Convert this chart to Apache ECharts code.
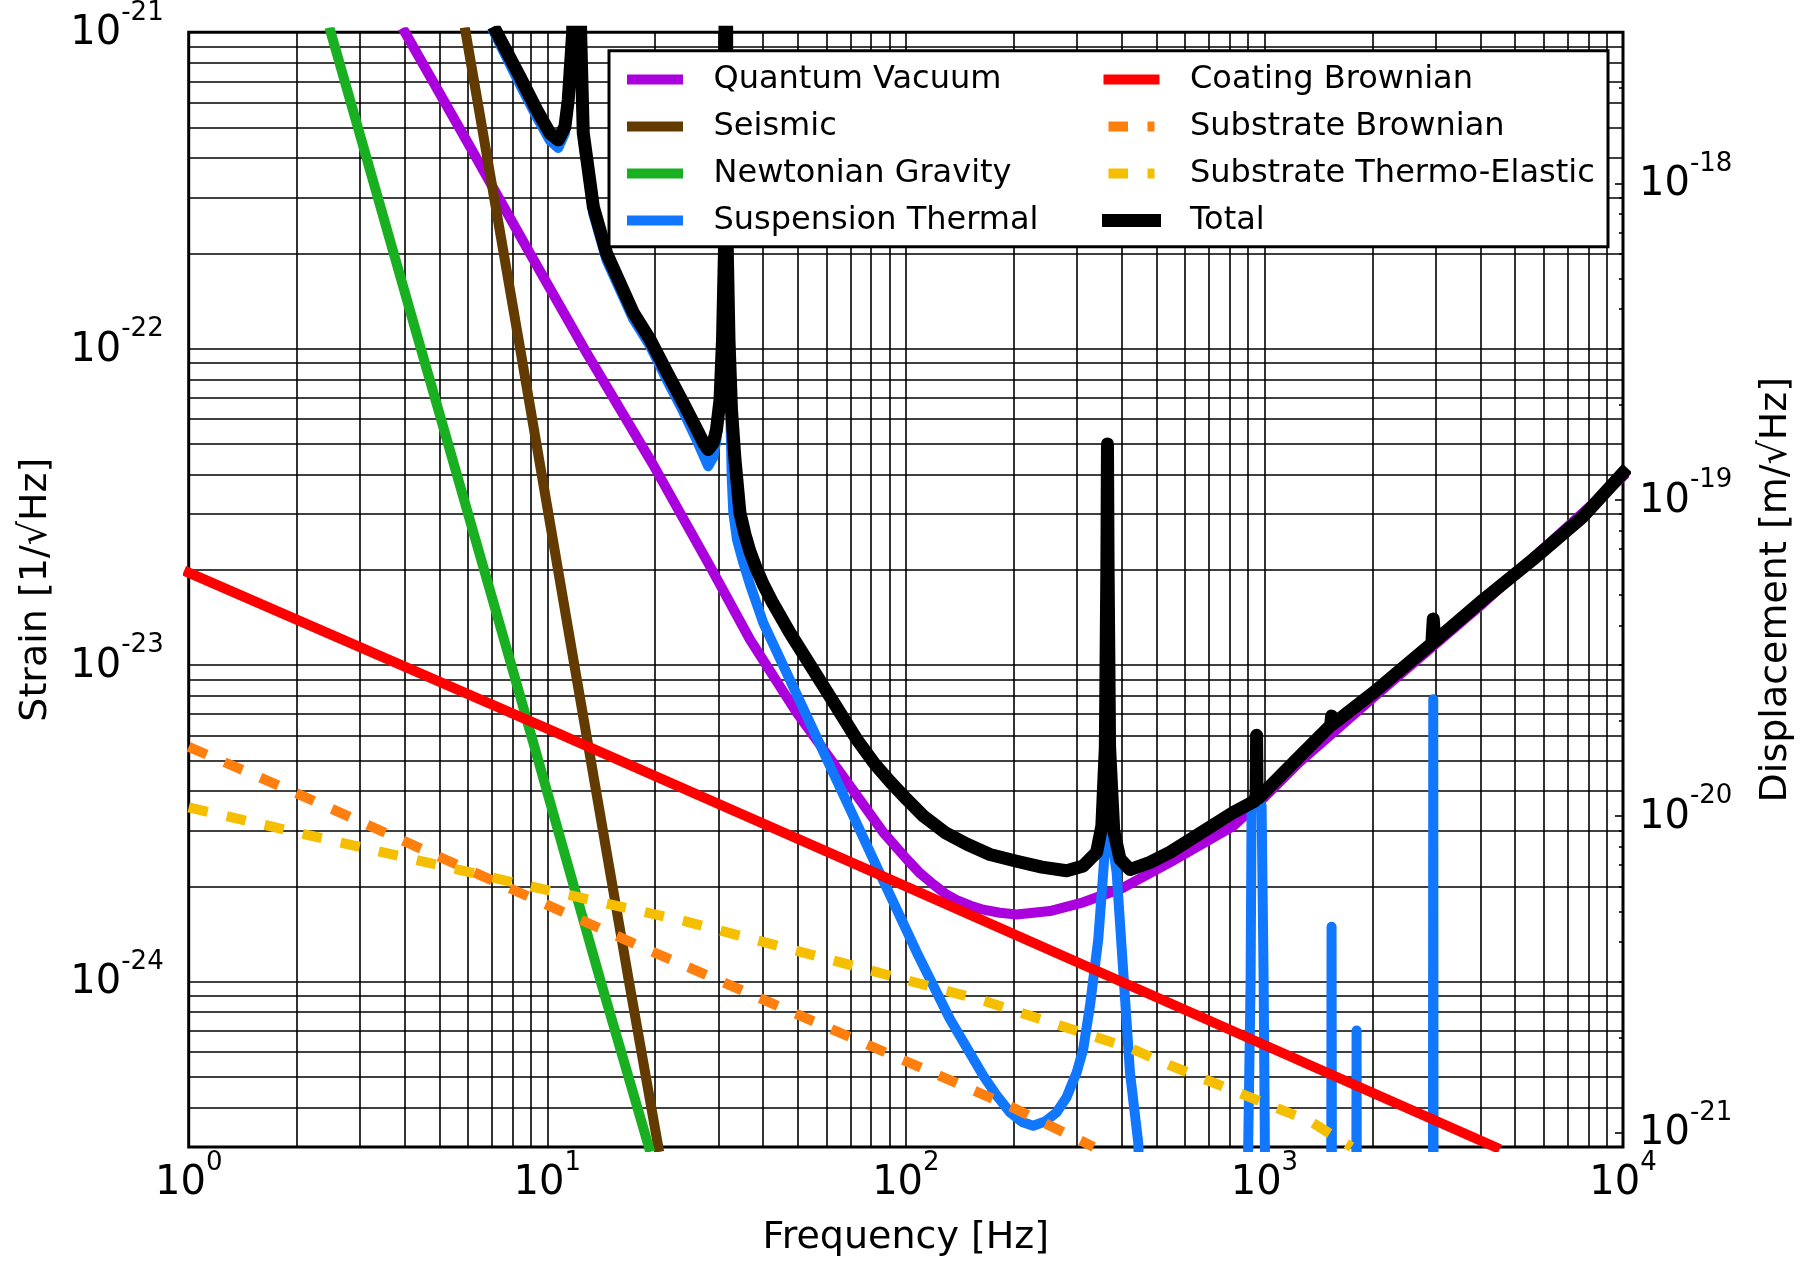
<!DOCTYPE html>
<html>
<head>
<meta charset="utf-8">
<title>Noise curves</title>
<script src="https://cdn.jsdelivr.net/npm/echarts@6.0.0/dist/echarts.min.js"></script>
<style>
  html, body { margin: 0; padding: 0; background: #fff; }
  #main { width: 1803px; height: 1262px; }
</style>
</head>
<body>
<div id="main"></div>
<script>
const FONT = 'DejaVu Sans'

// [frequency (Hz), strain (1/sqrt(Hz))]
const quantumVacuum = [
  [4.01, 1e-21], [6.09, 4.35e-22], [8.95, 2.0e-22], [12.88, 9.7e-23], [19.71, 4.31e-23],
  [28.6, 2.03e-23], [36.75, 1.205e-23], [49.61, 7.08e-24], [69.85, 4.15e-24], [86.5, 2.96e-24],
  [100.5, 2.44e-24], [109.5, 2.2e-24], [119.2, 2.03e-24], [128.9, 1.894e-24], [139.8, 1.80e-24],
  [151.5, 1.737e-24], [164.4, 1.687e-24], [183.0, 1.65e-24], [203.7, 1.63e-24], [252.2, 1.67e-24],
  [312.4, 1.78e-24], [403.9, 1.98e-24], [545, 2.38e-24], [818.4, 3.10e-24], [971, 3.7e-24],
  [1256, 4.95e-24], [2012, 7.9e-24], [4076, 1.57e-23], [10000, 3.95e-23]
]
const seismic = [
  [5.92, 1e-21], [8.4, 1e-22], [11.9, 1e-23], [16.9, 1e-24], [20.4, 3.0e-25]
]
const newtonianGravity = [
  [2.49, 1e-21], [4.44, 1e-22], [7.94, 1e-23], [14.1, 1e-24], [19.2, 3.0e-25]
]
const suspensionThermal = [
  [7.1, 1e-21], [8.3, 7.0e-22], [9.3, 5.45e-22], [10.17, 4.55e-22], [10.73, 4.31e-22],
  [11.2, 4.8e-22], [11.44, 6.0e-22], [11.77, 1e-21], [12.05, 1e-20], [12.39, 1e-21],
  [12.6, 4.6e-22], [13.44, 2.67e-22], [14.64, 1.9e-22], [17.37, 1.24e-22], [19.34, 1.022e-22],
  [21.53, 7.98e-23], [23.95, 6.32e-23], [26.15, 5.12e-23], [27.35, 4.56e-23], [28.1, 4.25e-23],
  [29.03, 4.53e-23], [29.64, 5.16e-23], [30.32, 6.65e-23], [30.81, 1.067e-22], [31.2, 2.05e-22],
  [31.45, 1e-20], [31.77, 2.05e-22], [32.12, 1.067e-22], [32.43, 5.97e-23], [32.7, 3.86e-23],
  [33.02, 3.03e-23], [33.81, 2.49e-23], [35.21, 2.105e-23], [36.75, 1.798e-23], [40.03, 1.361e-23],
  [49.61, 8.08e-24], [58.85, 5.33e-24], [69.85, 3.51e-24], [86.5, 2.086e-24], [107.2, 1.238e-24],
  [132.7, 7.61e-25], [164.4, 5.04e-25], [179.6, 4.35e-25], [195.2, 3.86e-25], [210.8, 3.60e-25],
  [226.6, 3.50e-25], [244.3, 3.61e-25], [263.4, 3.86e-25], [280.8, 4.31e-25], [299.5, 5.16e-25],
  [312.4, 6.12e-25], [326.2, 8.38e-25], [344.1, 1.361e-24], [355.2, 2.21e-24], [365, 3.5e-24],
  [387.1, 2.21e-24], [404, 1.07e-24], [421.7, 5.16e-25], [444.7, 3.1e-25], [460, 1e-25],
  [895, 1e-25], [901, 3.0e-25], [915, 1.0e-24], [921, 3.6e-24], [950, 3.9e-24],
  [982, 3.6e-24], [995, 1.0e-24], [1003, 3.0e-25], [1010, 1e-25], [1530, 1e-25],
  [1536, 3.0e-25], [1539, 1.49e-24], [1542, 3.0e-25], [1548, 1e-25], [1800, 1e-25],
  [1805, 3.0e-25], [1807, 7.0e-25], [1809, 3.0e-25], [1815, 1e-25], [2940, 1e-25],
  [2952, 3.0e-25], [2957, 7.8e-24], [2962, 3.0e-25], [2975, 1e-25], [10000, 1e-25]
]
const coatingBrownian = [
  [1, 1.96e-23], [10, 6.3e-24], [100, 2.0e-24], [1000, 6.3e-25], [4400, 3.0e-25]
]
const substrateBrownian = [
  [1, 5.52e-24], [2.09, 3.85e-24], [19.4, 1.25e-24], [196, 4.03e-25], [334, 3.0e-25]
]
const substrateThermoElastic = [
  [1, 3.55e-24], [8.97, 2.0e-24], [24.3, 1.55e-24], [63.8, 1.16e-24], [165.3, 8.69e-25],
  [428.5, 6.12e-25], [541.6, 5.45e-25], [1346, 3.61e-25], [1750, 3.0e-25]
]
const total = [
  [7.22, 1e-21], [8.39, 7.24e-22], [9.34, 5.69e-22], [10.17, 4.80e-22], [10.73, 4.57e-22],
  [11.2, 5.03e-22], [11.44, 6.1e-22], [11.77, 1e-21], [12.05, 1e-20], [12.39, 1e-21],
  [12.6, 4.8e-22], [13.44, 2.81e-22], [14.64, 2.0e-22], [17.37, 1.30e-22], [19.34, 1.07e-22],
  [21.53, 8.46e-23], [23.95, 6.74e-23], [26.15, 5.55e-23], [27.35, 5.01e-23], [28.1, 4.8e-23],
  [29.03, 5.04e-23], [29.64, 5.55e-23], [30.32, 6.9e-23], [30.81, 1.067e-22], [31.2, 2.05e-22],
  [31.45, 1e-20], [31.77, 2.05e-22], [32.12, 1.067e-22], [32.64, 6.42e-23], [33.38, 4.47e-23],
  [34.46, 3.03e-23], [35.6, 2.587e-23], [36.75, 2.286e-23], [38.19, 2.034e-23], [40.03, 1.798e-23],
  [42.33, 1.589e-23], [47.52, 1.264e-23], [58.85, 8.6e-24], [72.92, 5.83e-24], [82.0, 4.86e-24],
  [90.3, 4.29e-24], [100.5, 3.77e-24], [111.8, 3.34e-24], [128.5, 2.96e-24], [147.7, 2.72e-24],
  [171.6, 2.52e-24], [203.7, 2.40e-24], [239.6, 2.30e-24], [280.8, 2.24e-24], [312.4, 2.32e-24],
  [340.4, 2.56e-24], [352, 3.1e-24], [360, 5.5e-24], [363.5, 2e-23], [365, 5.0e-23],
  [366.5, 2e-23], [370, 5.5e-24], [380, 3.0e-24], [395.5, 2.44e-24], [421.8, 2.26e-24],
  [479.7, 2.38e-24], [545, 2.56e-24], [818.4, 3.42e-24], [940, 3.72e-24], [948, 3.9e-24],
  [951, 6.0e-24], [954, 3.9e-24], [962, 3.8e-24], [1256, 5.16e-24], [1530, 6.45e-24],
  [1539, 6.9e-24], [1548, 6.5e-24], [2012, 8.18e-24], [2930, 1.17e-23], [2957, 1.40e-23],
  [2985, 1.19e-23], [4076, 1.61e-23], [5620, 2.16e-23], [7745, 2.95e-23], [10000, 4.05e-23]
]

// axis ranges and tick labels
const freqRange = [1, 1e4]
const strainRange = [3e-25, 1e-21]
const dispRange = [9e-22, 3e-18]
const freqTicks = [1, 10, 100, 1000, 10000]
const strainTicks = [1e-24, 1e-23, 1e-22, 1e-21]
const dispTicks = [1e-21, 1e-20, 1e-19, 1e-18]
const minorSteps = [2, 3, 4, 5, 6, 7, 8, 9]

// the log scale rounds very small extents to zero, so the strain and
// displacement axes run in units of these constants
const STRAIN_UNIT = 1e-25
const DISP_UNIT = 1e-22

function inUnit(v, unit) {
  return +(v / unit).toPrecision(12)
}

function decadeGrid(lo, hi, steps) {
  const out = []
  for (let e = Math.floor(Math.log10(lo)); e <= Math.ceil(Math.log10(hi)); e++) {
    steps.forEach((m) => {
      const v = m * Math.pow(10, e)
      if (v > lo * 1.001 && v < hi * 0.999) out.push(v)
    })
  }
  return out
}

const gridX = decadeGrid(freqRange[0], freqRange[1], [1].concat(minorSteps))
const gridY = decadeGrid(strainRange[0], strainRange[1], [1].concat(minorSteps))
const dispMinor = decadeGrid(dispRange[0], dispRange[1], minorSteps)

function powerLabel(unit) {
  const shift = Math.round(Math.log10(unit))
  return (value) => '{b|10}{s|' + (Math.round(Math.log10(value)) + shift) + '}'
}

const tickRich = {
  b: { fontFamily: FONT, fontSize: 40, color: '#000', padding: [14, 0, 11, 0] },
  s: { fontFamily: FONT, fontSize: 26, color: '#000', verticalAlign: 'top' }
}

const nameStyle = { fontFamily: FONT, fontSize: 38, color: '#000' }
const COLOR_LW = 10
const TOTAL_LW = 13
const DASH = [19.5, 19.5]

function curve(name, points, color, width, dash) {
  return {
    name,
    type: 'line',
    data: points.map(([f, h]) => [f, h / STRAIN_UNIT]),
    symbol: 'none',
    showSymbol: false,
    silent: true,
    clip: true,
    animation: false,
    itemStyle: { color },
    lineStyle: {
      color,
      width,
      type: dash || 'solid',
      cap: dash ? 'butt' : 'square',
      join: 'round'
    },
    emphasis: { disabled: true }
  }
}

const gridLineSeries = {
  name: 'grid',
  type: 'line',
  data: [],
  silent: true,
  animation: false,
  markLine: {
    silent: true,
    symbol: 'none',
    animation: false,
    precision: -1,
    z: 1,
    label: { show: false },
    lineStyle: { color: '#000', width: 1.6, type: 'solid' },
    emphasis: { disabled: true },
    data: gridX.map((v) => ({ xAxis: v }))
      .concat(gridY.map((v) => ({ yAxis: inUnit(v, STRAIN_UNIT) })))
  }
}

const legendText = {
  fontFamily: FONT,
  fontSize: 32,
  color: '#000',
  rich: { a: { fontFamily: FONT, fontSize: 32, color: '#000', padding: [0, 0, 0, 30.5] } }
}

function legendCol(names, left) {
  return {
    show: true,
    orient: 'vertical',
    left,
    top: 63.5,
    padding: 0,
    itemGap: 15,
    itemWidth: 46,
    itemHeight: 14,
    selectedMode: false,
    z: 20,
    formatter: '{a|{name}}',
    textStyle: legendText,
    itemStyle: { opacity: 0, borderWidth: 0 },
    lineStyle: { width: COLOR_LW },
    data: names.map((n) => (n === 'Total' ? { name: n, lineStyle: { width: TOTAL_LW } } : { name: n }))
  }
}

function logAxis(range, unit, extra) {
  return Object.assign({
    type: 'log',
    logBase: 10,
    min: inUnit(range[0], unit),
    max: inUnit(range[1], unit),
    axisLine: { show: false },
    axisTick: { show: false },
    splitLine: { show: false }
  }, extra)
}

const option = {
  backgroundColor: '#fff',
  animation: false,
  grid: {
    left: 188.7,
    right: 180,
    top: 32.3,
    bottom: 115,
    show: true,
    borderColor: '#000',
    borderWidth: 3,
    backgroundColor: 'transparent',
    containLabel: false,
    outerBoundsMode: 'none'
  },
  legend: [
    legendCol(['Quantum Vacuum', 'Seismic', 'Newtonian Gravity', 'Suspension Thermal'], 627),
    legendCol(['Coating Brownian', 'Substrate Brownian', 'Substrate Thermo-Elastic', 'Total'], 1102)
  ],
  graphic: [
    {
      type: 'rect',
      z: 10,
      silent: true,
      shape: { x: 609, y: 50.7, width: 999, height: 196 },
      style: { fill: '#fff', stroke: '#000', lineWidth: 3 }
    }
  ],
  xAxis: logAxis(freqRange, 1, {
    position: 'bottom',
    axisLabel: {
      customValues: freqTicks,
      formatter: powerLabel(1),
      margin: 3,
      rich: tickRich
    },
    name: 'Frequency [Hz]',
    nameLocation: 'middle',
    nameGap: 72,
    nameTextStyle: nameStyle
  }),
  yAxis: [
    logAxis(strainRange, STRAIN_UNIT, {
      position: 'left',
      axisLabel: {
        customValues: strainTicks.map((v) => inUnit(v, STRAIN_UNIT)),
        formatter: powerLabel(STRAIN_UNIT),
        margin: 25,
        rich: tickRich
      },
      name: 'Strain [1/\u221aHz]',
      nameLocation: 'middle',
      nameGap: 134,
      nameRotate: 90,
      nameTextStyle: nameStyle
    }),
    logAxis(dispRange, DISP_UNIT, {
      position: 'right',
      axisTick: {
        show: true,
        inside: true,
        length: 8,
        customValues: dispTicks.map((v) => inUnit(v, DISP_UNIT)),
        lineStyle: { color: '#000', width: 1.6 }
      },
      axisLabel: {
        customValues: dispTicks.map((v) => inUnit(v, DISP_UNIT)),
        formatter: powerLabel(DISP_UNIT),
        margin: 16,
        rich: tickRich
      },
      name: 'Displacement [m/\u221aHz]',
      nameLocation: 'middle',
      nameGap: 134,
      nameRotate: 90,
      nameTextStyle: nameStyle
    }),
    logAxis(dispRange, DISP_UNIT, {
      position: 'right',
      axisTick: {
        show: true,
        inside: true,
        length: 4,
        customValues: dispMinor.map((v) => inUnit(v, DISP_UNIT)),
        lineStyle: { color: '#000', width: 1.6 }
      },
      axisLabel: { show: false }
    })
  ],
  series: [
    gridLineSeries,
    curve('Quantum Vacuum', quantumVacuum, '#aa00dd', COLOR_LW),
    curve('Seismic', seismic, '#633a00', COLOR_LW),
    curve('Newtonian Gravity', newtonianGravity, '#18b020', COLOR_LW),
    curve('Suspension Thermal', suspensionThermal, '#1177ff', COLOR_LW),
    curve('Coating Brownian', coatingBrownian, '#ff0000', COLOR_LW),
    curve('Substrate Brownian', substrateBrownian, '#ff7f0e', COLOR_LW, DASH),
    curve('Substrate Thermo-Elastic', substrateThermoElastic, '#f5bf00', COLOR_LW, DASH),
    curve('Total', total, '#000000', TOTAL_LW)
  ]
}

const chart = echarts.init(document.getElementById('main'), null, { renderer: 'canvas' })
chart.setOption(option)
</script>
</body>
</html>
